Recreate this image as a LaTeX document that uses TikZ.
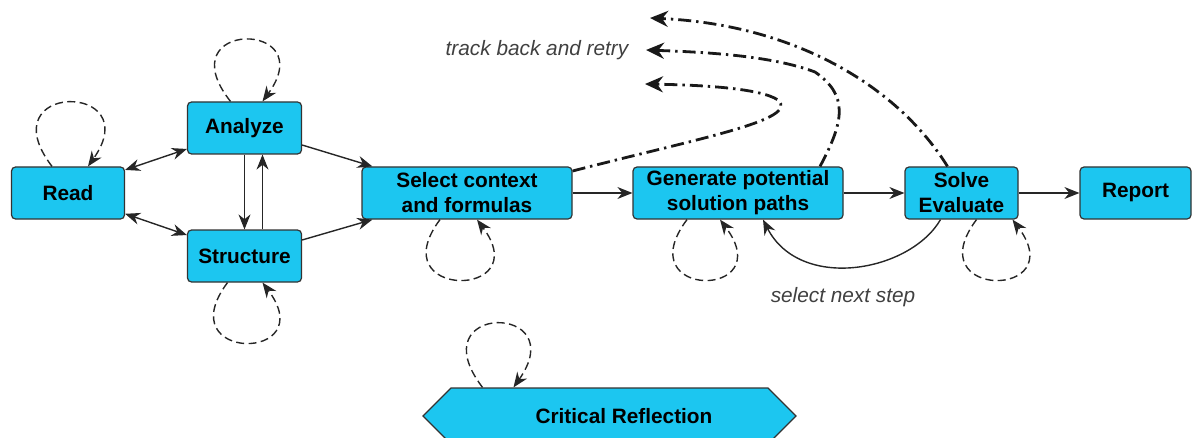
\documentclass[tikz,border=0pt]{standalone}
\usepackage{fontspec}
\setmainfont{Liberation Sans}
\usetikzlibrary{arrows.meta,positioning,calc,shapes.symbols}

\definecolor{stagecyan}{RGB}{28,198,240}

\begin{document}
\begin{tikzpicture}[
  x=0.5pt, y=-0.5pt,
  font=\fontsize{10.4}{12.5}\selectfont,
  >=Stealth,
  stage/.style={draw=black!80, fill=stagecyan, line width=0.6pt, rounded corners=2pt,
    minimum height=26pt, align=center, inner sep=1pt, font=\fontsize{10.4}{12.5}\selectfont\bfseries},
  reflect/.style={stage, shape=signal, signal to=west and east, signal pointer angle=90,
    rounded corners=0pt, minimum width=186.5pt, minimum height=28pt},
  flow/.style={-{Stealth[length=7.5pt, width=6pt]}, line width=0.7pt, draw=black!85},
  biflow/.style={flow, {Stealth[length=7.5pt, width=6pt]}-{Stealth[length=7.5pt, width=6pt]}},
  selfloop/.style={flow, dash pattern=on 4pt off 2.2pt},
  backtrack/.style={-{Stealth[length=9pt, width=8pt]}, line width=1.4pt, draw=black!90,
    dash pattern=on 6.5pt off 2.5pt on 1.2pt off 2.5pt},
  note/.style={font=\fontsize{10.4}{12.5}\selectfont\itshape, text=black!75, inner sep=0pt}
]
\useasboundingbox (0,0) rectangle (1192,438);
\clip (0,0) rectangle (1192,438);

% stages
\node[stage, minimum width=56.5pt] (read) at (68,193) {Read};
\node[stage, minimum width=57pt] (analyze) at (244.5,128) {Analyze};
\node[stage, minimum width=57pt] (structure) at (244.5,256) {Structure};
\node[stage, minimum width=105pt] (select) at (467,193) {Select context\\and formulas};
\node[stage, minimum width=105pt] (generate) at (738,193) {Generate potential\\solution paths};
\node[stage, minimum width=56.5pt] (solve) at (961.5,193) {Solve\\Evaluate};
\node[stage, minimum width=55.5pt] (report) at (1135.5,193) {Report};
\node[reflect] (crit) at (609.5,416) {\hspace*{14.5pt}Critical Reflection};

% labels
\node[note] (retrylbl) at (537,50) {track back and retry};
\node[note] (nextlbl) at (843,297) {select next step};

\coordinate (retry1) at (650,18);
\coordinate (retry2) at (646,50);
\coordinate (retry3) at (645,84);

% main flow
\draw[biflow] (read.22) -- (analyze.200);
\draw[biflow] (read.-20) -- (structure.160);
\draw[flow] (analyze.south) -- (structure.north);
\draw[flow] ($(structure.north)+(18,0)$) -- ($(analyze.south)+(18,0)$);
\draw[flow] ($(analyze.east)+(0,17)$) -- ($(select.north west)+(11,0)$);
\draw[flow] ($(structure.east)+(0,-16)$) -- ($(select.south west)+(11,0)$);
\draw[flow] (select) -- (generate);
\draw[flow] (generate) -- (solve);
\draw[flow] (solve) -- (report);
\draw[flow] ($(solve.south)+(-21,0)$) .. controls (910,272) and (800,292) .. ($(generate.south)+(25,0)$);

% track back
\draw[backtrack] ($(select.east)+(0,-22)$) .. controls (700,138) and (800,120) .. (778,100)
  .. controls (760,88) and (700,85) .. (retry3);
\draw[backtrack] ($(generate.north)+(82,0)$) .. controls (845,120) and (848,95) .. (815,72)
  .. controls (770,55) and (700,52) .. (retry2);
\draw[backtrack] ($(solve.north)+(-14,0)$) .. controls (900,90) and (800,25) .. (retry1);

% self loops
\draw[selfloop] ($(read.north)+(-16,0)$) .. controls +(-65,-85) and +(60,-85) .. ($(read.north)+(20,0)$);
\draw[selfloop] ($(analyze.north)+(-14,0)$) .. controls +(-65,-82) and +(60,-82) .. ($(analyze.north)+(18,0)$);
\draw[selfloop] ($(structure.south)+(-17,0)$) .. controls +(-60,80) and +(60,80) .. ($(structure.south)+(18,0)$);
\draw[selfloop] ($(select.south)+(-27,0)$) .. controls +(-60,80) and +(60,80) .. ($(select.south)+(10,0)$);
\draw[selfloop] ($(generate.south)+(-51,0)$) .. controls +(-60,80) and +(60,80) .. ($(generate.south)+(-18,0)$);
\draw[selfloop] ($(solve.south)+(15,0)$) .. controls +(-60,80) and +(60,80) .. ($(solve.south)+(51,0)$);
\draw[selfloop] ($(crit.north)+(-127,0)$) .. controls +(-65,-85) and +(60,-85) .. ($(crit.north)+(-96,0)$);

\end{tikzpicture}
\end{document}
